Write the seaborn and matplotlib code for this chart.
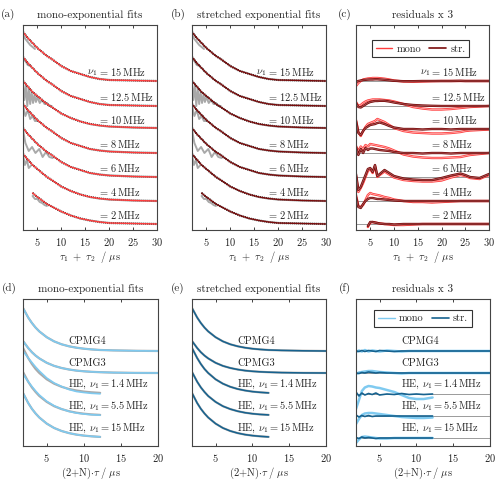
import matplotlib
matplotlib.use("Agg")
import matplotlib.pyplot as plt
import matplotlib.patheffects as pe
from matplotlib.lines import Line2D
import seaborn as sns

# ── colours ──────────────────────────────────────────────────────────────────
RED, DARKRED = "#ff3c3c", "#7a0c0c"
LBLUE, DBLUE = "#7fcaf0", "#16628f"
GREY, ZERO = "#a9a9a9", "#9a9a9a"

# ── top row: echo decays (values = vertical position) ──
NU_LABELS = ["15", "12.5", "10", "8", "6", "4", "2"]
T_GRID = [2, 3, 4, 5, 6, 7, 8, 10, 12, 14, 16, 18, 20, 25, 30]
T_GRID_2MHZ = [4, 5, 6, 7, 8, 10, 12, 14, 16, 18, 20, 25, 30]
DECAY_15 = [32, 38, 43, 48, 52, 56, 59, 66, 71, 74, 77, 79, 80, 80.5, 81]
DECAY_12 = [57, 63, 68, 73, 77, 81, 84, 91, 96, 99, 102, 104, 105, 105.5, 106]
DECAY_10 = [81, 86.5, 92, 96, 100, 104, 107, 113.5, 118, 121.5, 124, 125.5, 126.5, 127.5, 128]
DECAY_8 = [104, 110, 115, 120, 124, 128, 131, 138, 143, 146, 149, 150.5, 151.5, 152.5, 153]
DECAY_6 = [128, 134, 139, 144, 148, 152, 155, 162, 167, 170, 173, 174.5, 175.5, 176.5, 177]
DECAY_4 = [154, 159.5, 165, 169, 173, 177, 180, 186.5, 191, 194.5, 197, 198.5, 199.5, 200.5, 201]
DECAY_2 = [193, 197, 200.5, 204, 206.5, 211.5, 215.5, 218.5, 220.5, 222, 223, 223.5, 224]
TOP_BASE = [81, 106, 129, 153, 177, 201, 224]

# raw (grey) data at early times
GREY_X = [[2, 2.5, 3, 3.5, 4, 4.5],
          [2, 2.5, 3, 3.5],
          [2, 2.3, 2.6, 2.9, 3.2, 3.5, 3.8, 4.1, 4.4, 4.7, 5, 5.5, 6, 6.5, 7, 7.5, 8],
          [2, 2.5, 3, 3.5, 4, 4.5, 5],
          [2, 2.5, 3.2, 3.9, 4.6, 5.4, 6.1, 6.8, 7.5, 8.2],
          [2, 2.4, 2.8, 3.2, 3.6],
          [4, 4.5, 5, 5.5, 6, 6.5, 7]]
GREY_Y = [[35, 39, 42, 45, 47, 49],
          [59, 61, 65, 66],
          [83, 100, 85, 106, 88, 104, 92, 103, 95, 102, 97, 103, 100, 104, 103, 106, 106],
          [106, 116, 110, 119, 116, 121, 121],
          [130, 143, 151, 147, 153, 149, 157, 152, 157, 158],
          [155, 165, 160, 168, 166],
          [196, 199, 199, 202, 203, 205, 206]]

# residuals x 3 (panel c)
R_GRID = [2, 2.5, 3, 3.5, 4, 4.5, 5, 5.5, 6, 6.5, 7, 8, 9, 10, 12, 14, 16, 18, 20, 22, 24, 25, 26, 28, 30]
R_GRID_2MHZ = [4.5, 5, 5.5, 6, 6.5, 7, 8, 9, 10, 12, 14, 16, 18, 20, 22, 24, 25, 26, 28, 30]
RES_MONO = [
    [86, 83, 81, 79.5, 79, 78.5, 78.3, 78, 78, 78, 78.2, 78.7, 79.5, 80.5, 81.5, 81.7, 81.5, 81.2, 81, 81, 81, 81, 81, 81, 81],
    [102, 106, 105, 103, 101.5, 100.5, 100, 99.5, 99.5, 99.5, 99.5, 100, 100.5, 101.5, 104, 107, 108.5, 109.5, 109.5, 109, 108, 107.5, 107, 106.5, 106],
    [120, 132, 136, 131, 127, 124, 123, 122, 121, 119, 120, 122, 125, 128, 131, 132.5, 133, 133.5, 133.5, 133, 132, 131, 130.5, 130, 129.5],
    [146, 151, 146.5, 149, 145, 146.5, 144, 144.5, 145, 145.5, 146, 147, 148.5, 150.5, 154.5, 156.5, 157.5, 158, 158, 157.5, 157, 156, 155, 154, 153],
    [176, 192, 188, 183, 177, 171, 169, 173, 166, 177, 175, 171.5, 174.5, 177.5, 180, 181, 181.5, 181.5, 180.5, 177.5, 175, 176, 178, 179, 175],
    [195, 206, 207, 205, 200, 195, 193, 194, 194.5, 195, 195.5, 197, 198, 199.5, 201, 202, 202, 202.5, 202, 201.5, 201, 201, 201, 201, 201],
    [227, 222.5, 222, 222.5, 223, 223.5, 224, 224.5, 225, 225, 224.5, 224, 224, 224, 224, 224, 224, 224, 224, 224],
]
RES_STR = [
    [82, 81, 80.5, 80, 79.8, 79.6, 79.5, 79.5, 79.3, 79.3, 79.5, 79.8, 80.3, 80.8, 81.2, 81.2, 81, 81, 81, 81, 80.8, 81, 81, 81, 81],
    [103, 107, 107.5, 106, 104.5, 103, 102, 101.5, 101, 101, 100.8, 100.8, 101.5, 102.5, 104, 105, 105.5, 105.8, 106, 106, 106, 106, 106, 106, 106],
    [121, 133, 135, 131, 128, 126.5, 125, 124.5, 124, 123, 122.5, 124, 126, 127.5, 129, 129, 129.5, 129, 129, 129.5, 129, 129, 129, 129, 129],
    [147, 155, 149, 153, 148, 150, 148.5, 148.5, 149, 149.5, 150, 150.5, 151, 152, 153, 153, 153.5, 153, 153, 153.5, 153, 153, 153, 153, 153],
    [174, 190, 187, 181, 175, 169, 168, 172, 165, 176, 174, 170, 173, 176, 178.5, 179.5, 180, 180, 178, 175.5, 173.5, 175, 177, 178, 174],
    [197, 207, 208, 204, 201, 199, 198, 198, 198.5, 199, 199, 199.5, 200, 200.5, 201, 201, 201, 201, 201, 201, 201, 201, 201, 201, 201],
    [226, 222, 222, 222.5, 223, 223.5, 224, 224, 224.5, 224, 224, 224, 224, 224, 224, 224, 224, 224, 224, 224],
]

# ── bottom row: CPMG / HE decays ─────────────────────────────────────────────
SEQ_LABELS = ["CPMG4", "CPMG3", r"HE, $\nu_1 = 1.4\,$MHz", r"HE, $\nu_1 = 5.5\,$MHz", r"HE, $\nu_1 = 15\,$MHz"]
N_GRID_LONG = [1.8, 2.5, 3, 3.5, 4, 5, 6, 7, 8, 9, 10, 11, 12.2, 14, 17, 20]
N_GRID = [1.8, 2.5, 3, 3.5, 4, 5, 6, 7, 8, 9, 10, 11, 12.2]
SEQ_DATA = [
    [308, 317.5, 323, 327.6, 331.4, 337.2, 341.4, 344.3, 346.3, 347.7, 348.7, 349.4, 350, 350.4, 350.8, 351],
    [341, 348, 352.2, 355.6, 358.4, 362.8, 365.9, 368, 369.5, 370.6, 371.3, 371.8, 372.2, 372.6, 372.9, 373],
    [348, 358, 364, 369, 373, 379.3, 383.7, 386.8, 389, 390.5, 391.6, 392.3, 392.9],
    [372, 381.7, 387.4, 392, 396, 401.9, 406.2, 409.1, 411.2, 412.7, 413.7, 414.4, 414.9],
    [393, 403, 408.8, 413.5, 417.5, 423.6, 428, 431, 433.1, 434.6, 435.6, 436.3, 436.9],
]
SEQ_MONO = [
    SEQ_DATA[0],
    SEQ_DATA[1],
    [351, 358, 362.5, 367, 371, 378, 383, 386.5, 389.5, 391.5, 392.5, 393.3, 393.8],
    [374, 381.7, 386.5, 391, 395, 401.3, 405.8, 409, 411.4, 413, 414, 414.7, 415.2],
    SEQ_DATA[4],
]
SEQ_BASE = [351, 373, 394, 416, 438]

F_GRID_LONG = [1.8, 2.2, 2.6, 3, 3.5, 4, 4.5, 5, 6, 7, 8, 9, 10, 11, 12.2, 14, 17, 20]
F_GRID = [1.8, 2.2, 2.6, 3, 3.5, 4, 4.5, 5, 6, 7, 8, 9, 10, 11, 12.2]
FRES_MONO = [
    [352, 350.5, 351.5, 350, 351.5, 350.5, 351, 351.5, 350.5, 351, 351.5, 351, 351, 351, 351, 351, 351, 351],
    [374, 372.5, 372, 371.5, 371, 371, 371.5, 372, 372.5, 373, 373.5, 373, 373, 373, 373, 373, 373, 373],
    [409, 400, 391, 387.5, 386, 386.5, 387.5, 388, 390, 392, 395, 398, 399, 399, 397.5],
    [424, 419, 415, 413.5, 413, 413, 413.5, 414, 415, 416, 417, 417.5, 418, 418, 417.5],
    [443, 439.5, 437, 436.5, 437, 437.5, 438, 438.5, 438.5, 438, 438, 438, 438, 438, 438],
]
FRES_STR = [
    [351, 351.5, 350.5, 351.5, 350.5, 351, 351.5, 350.5, 351, 351.5, 351, 351, 351, 351, 351, 351, 351, 351],
    [373, 373.5, 372.5, 373, 372, 372.5, 373, 372.5, 373, 373, 373, 373, 373, 373, 373, 373, 373, 373],
    [392, 396, 393, 395, 393.5, 394.5, 393, 395, 394, 394.5, 393.5, 394.5, 394, 394.5, 394],
    [415, 417, 415.5, 416.5, 415.5, 416.5, 416, 416, 416, 416, 416, 416, 416, 416, 416],
    [437.5, 438.5, 437, 438, 437.5, 438, 438.5, 438, 438, 438, 438, 438, 438, 438, 438],
]

# ── style ────────────────────────────────────────────────────────────────────
sns.set_theme(style="ticks")
plt.rcParams["font.family"] = ["cmr10", "DejaVu Serif"]
plt.rcParams["mathtext.fontset"] = "cm"
plt.rcParams["axes.formatter.use_mathtext"] = True
FS = 7.5
W, H = 500, 483


def line(ax, x, y, **kw):
    sns.lineplot(x=x, y=y, ax=ax, sort=False, estimator=None, legend=False, **kw)


def frame(ax, box, xlim, ylim, xticks):
    x0, y0, x1, y1 = box
    ax.set_position([x0 / W, 1 - y1 / H, (x1 - x0) / W, (y1 - y0) / H])
    ax.set_xlim(*xlim)
    ax.set_ylim(*ylim)
    ax.set_xticks(xticks)
    ax.set_yticks([])
    ax.set_xlabel("")
    ax.set_ylabel("")
    ax.tick_params(axis="x", direction="in", top=True, length=2.5, width=0.6,
                   labelsize=FS, pad=4, colors="#222222")
    for s in ax.spines.values():
        s.set_visible(True)
        s.set_linewidth(0.8)
        s.set_color("#444444")


def doubled(color, light):
    # residual traces look like a narrow band: coloured edges, pale core
    return [pe.Stroke(linewidth=1.7, foreground=color), pe.Stroke(linewidth=0.5, foreground=light)]


fig = plt.figure(figsize=(5, 4.83), dpi=100)
axes = [fig.add_subplot(2, 3, i + 1) for i in range(6)]
ax_a, ax_b, ax_c, ax_d, ax_e, ax_f = axes

TOP_BOXES = [(23, 25, 157, 230), (192, 25, 326, 230), (356, 25, 489, 230)]
BOT_BOXES = [(23, 299, 158, 446), (192, 299, 326, 446), (356, 299, 490, 446)]
TOP_TITLES = ["mono-exponential fits", "stretched exponential fits", "residuals x 3"]
LETTERS = ["(a)", "(b)", "(c)", "(d)", "(e)", "(f)"]
LETTER_X = [8, 178, 345, 9, 178, 345]

decays = [DECAY_15, DECAY_12, DECAY_10, DECAY_8, DECAY_6, DECAY_4, DECAY_2]
xs_top = [T_GRID] * 6 + [T_GRID_2MHZ]

# (a) and (b): data + fits
for ax, fit_col in [(ax_a, RED), (ax_b, DARKRED)]:
    for gx, gy in zip(GREY_X, GREY_Y):
        line(ax, gx, gy, color=GREY, linewidth=1.4)
    for x, y in zip(xs_top, decays):
        line(ax, x, y, color="black", linewidth=1.6, linestyle=(0, (0.4, 0.5)))
        line(ax, x, y, color=fit_col, linewidth=1.0)

# (c): residuals
rx_top = [R_GRID] * 6 + [R_GRID_2MHZ]
for b in TOP_BASE:
    ax_c.axhline(b, color=ZERO, linewidth=0.7, zorder=1)
for x, ym, ys in zip(rx_top, RES_MONO, RES_STR):
    line(ax_c, x, ym, color=RED, linewidth=0.5, path_effects=doubled(RED, "#ffc0c0"))
    line(ax_c, x, ys, color=DARKRED, linewidth=0.5, path_effects=doubled(DARKRED, "#b06060"))

# (d) and (e)
xs_bot = [N_GRID_LONG] * 2 + [N_GRID] * 3
for x, yd, ym in zip(xs_bot, SEQ_DATA, SEQ_MONO):
    line(ax_d, x, yd, color=GREY, linewidth=1.6)
    line(ax_d, x, ym, color=LBLUE, linewidth=1.2)
    line(ax_e, x, yd, color=GREY, linewidth=1.6)
    line(ax_e, x, yd, color=DBLUE, linewidth=1.1)

# (f): residuals
fx_bot = [F_GRID_LONG] * 2 + [F_GRID] * 3
for b in SEQ_BASE:
    ax_f.axhline(b, color=ZERO, linewidth=0.7, zorder=1)
for x, ym, ys in zip(fx_bot, FRES_MONO, FRES_STR):
    line(ax_f, x, ym, color=LBLUE, linewidth=1.8)
    line(ax_f, x, ys, color=DBLUE, linewidth=1.2)

# frames, titles, labels
for ax, box, title in zip([ax_a, ax_b, ax_c], TOP_BOXES, TOP_TITLES):
    frame(ax, box, (2, 30), (230, 25), [5, 10, 15, 20, 25, 30])
    ax.text(0.5, 1 + 10 / 205, title, transform=ax.transAxes, ha="center", va="center", fontsize=FS + 0.5)
    ax.text(0.5, -27 / 205, r"$\tau_1\ +\ \tau_2\ \ /\ \mathrm{\mu s}$", transform=ax.transAxes,
            ha="center", va="center", fontsize=FS)
    for lab, b in zip(NU_LABELS, TOP_BASE):
        ax.text(17.8, b - 8.5, "= " + lab + r"$\,$MHz", ha="left", va="center", fontsize=FS)
    ax.text(17.6, TOP_BASE[0] - 8.5, r"$\nu_1$", ha="right", va="center", fontsize=FS)

for ax, box, title in zip([ax_d, ax_e, ax_f], BOT_BOXES, TOP_TITLES):
    frame(ax, box, (1.8, 20), (446, 299), [5, 10, 15, 20])
    ax.text(0.5, 1 + 10 / 147, title, transform=ax.transAxes, ha="center", va="center", fontsize=FS + 0.5)
    ax.text(0.5, -27 / 147, r"$(2{+}\mathrm{N}){\cdot}\tau\ /\ \mathrm{\mu s}$", transform=ax.transAxes,
            ha="center", va="center", fontsize=FS)
    for lab, b in zip(SEQ_LABELS, SEQ_BASE):
        ax.text(7.9, b - 10, lab, ha="left", va="center", fontsize=FS)

for lab, lx, ly in zip(LETTERS, LETTER_X, [14] * 3 + [288] * 3):
    fig.text(lx / W, 1 - ly / H, lab, ha="center", va="center", fontsize=FS + 0.5)

# legends
for ax, c1, c2, anchor in [(ax_c, RED, DARKRED, (0.485, 0.95)), (ax_f, LBLUE, DBLUE, (0.5, 0.96))]:
    handles = [Line2D([], [], color=c1, lw=1.0), Line2D([], [], color=c2, lw=1.2)]
    leg = ax.legend(handles, ["mono", "str."], loc="upper center", bbox_to_anchor=anchor, ncol=2,
                    fontsize=FS, handlelength=1.6, handletextpad=0.4, columnspacing=0.8,
                    borderpad=0.35, fancybox=False, framealpha=1)
    leg.get_frame().set_edgecolor("#333333")
    leg.get_frame().set_linewidth(0.8)

fig.savefig("out.png", dpi=100)
